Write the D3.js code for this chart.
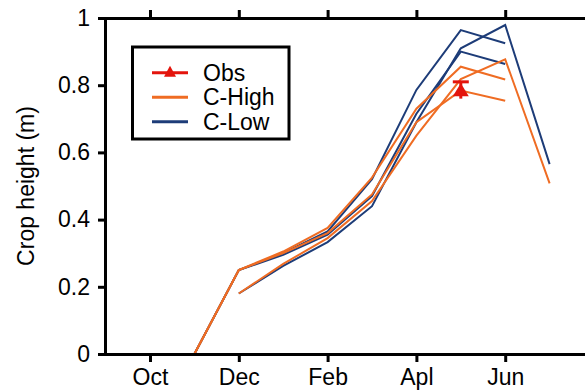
<!DOCTYPE html>
<html>
<head>
<meta charset="utf-8">
<script src="https://cdn.jsdelivr.net/npm/d3@7"></script>
<style>
  html, body { margin: 0; padding: 0; background: #fff; }
  svg { display: block; font-family: "Liberation Sans", Arial, Helvetica, sans-serif; }
</style>
</head>
<body>
<svg id="chart" width="585" height="392"></svg>
<script>
// ---------- data (months counted from Oct = 0) ----------
const tickMonths = [0, 2, 4, 6, 8];
const tickLabels = ["Oct", "Dec", "Feb", "Apl", "Jun"];
const yTicks = [0, 0.2, 0.4, 0.6, 0.8, 1];

const timesEarly = [1, 2, 3, 4, 5, 6, 7, 8];      // Nov .. Jun
const timesLate  = [2, 3, 4, 5, 6, 7, 8, 9];      // Dec .. Jul

const cLowRun1  = [0, 0.25, 0.300, 0.365, 0.520, 0.786, 0.964, 0.925];
const cLowRun2  = [0, 0.25, 0.295, 0.355, 0.470, 0.715, 0.900, 0.863];
const cLowRun3  = [0.18, 0.262, 0.333, 0.440, 0.690, 0.910, 0.979, 0.565];

const cHighRun1 = [0, 0.25, 0.305, 0.375, 0.525, 0.730, 0.855, 0.817];
const cHighRun2 = [0, 0.25, 0.300, 0.360, 0.475, 0.690, 0.784, 0.754];
const cHighRun3 = [0.18, 0.268, 0.345, 0.455, 0.650, 0.818, 0.877, 0.508];

const obsTime  = [7];
const obsValue = [0.785];
const obsError = [0.025];

// ---------- layout ----------
const svg = d3.select("#chart");
const x = d3.scaleLinear().domain([-1, 10]).range([105.6, 594]);
const y = d3.scaleLinear().domain([0, 1]).range([354, 18]);

const colHigh = "#ef6c23";
const colLow  = "#1d3c78";
const colObs  = "#e3140c";

const line = d3.line().x(d => x(d[0])).y(d => y(d[1]));
const zip = (t, v) => t.map((ti, i) => [ti, v[i]]);

const series = [
  { t: timesEarly, v: cLowRun1, c: colLow },
  { t: timesEarly, v: cLowRun2, c: colLow },
  { t: timesLate,  v: cLowRun3, c: colLow },
  { t: timesEarly, v: cHighRun1, c: colHigh },
  { t: timesEarly, v: cHighRun2, c: colHigh },
  { t: timesLate,  v: cHighRun3, c: colHigh }
];

svg.append("g").selectAll("path").data(series).join("path")
  .attr("d", s => line(zip(s.t, s.v)))
  .attr("fill", "none")
  .attr("stroke", s => s.c)
  .attr("stroke-width", 2)
  .attr("stroke-linejoin", "miter");

// observations with error bars
const obs = obsTime.map((t, i) => ({ t, v: obsValue[i], e: obsError[i] }));
const og = svg.append("g");
og.selectAll("line.err").data(obs).join("line")
  .attr("x1", d => x(d.t)).attr("x2", d => x(d.t))
  .attr("y1", d => y(d.v + d.e)).attr("y2", d => y(d.v - d.e))
  .attr("stroke", colObs).attr("stroke-width", 3);
og.selectAll("line.capT").data(obs).join("line")
  .attr("x1", d => x(d.t) - 8).attr("x2", d => x(d.t) + 8)
  .attr("y1", d => y(d.v + d.e)).attr("y2", d => y(d.v + d.e))
  .attr("stroke", colObs).attr("stroke-width", 3);
og.selectAll("path.tri").data(obs).join("path")
  .attr("d", d => {
    const cx = x(d.t), cy = y(d.v);
    return `M${cx},${cy - 7}L${cx + 8},${cy + 6}L${cx - 8},${cy + 6}Z`;
  })
  .attr("fill", colObs);

// ---------- axes ----------
const fmtY = d => (d === 0 || d === 1) ? String(d) : d.toFixed(1);
const axStyle = g => {
  g.selectAll("path.domain").attr("stroke", "#000").attr("stroke-width", 3).attr("stroke-linecap", "square");
  g.selectAll(".tick line").attr("stroke", "#000").attr("stroke-width", 3);
  g.selectAll(".tick text").attr("fill", "#000").style("font-size", "23px")
    .style("font-family", '"Liberation Sans", Arial, Helvetica, sans-serif');
};

svg.append("g").attr("transform", `translate(0,${y(0)})`)
  .call(d3.axisBottom(x).tickValues(tickMonths).tickFormat((d, i) => tickLabels[i])
    .tickSize(8).tickSizeOuter(0).tickPadding(7))
  .call(axStyle);

svg.append("g").attr("transform", `translate(0,${y(1)})`)
  .call(d3.axisTop(x).tickValues(tickMonths).tickFormat("").tickSize(8).tickSizeOuter(0))
  .call(axStyle);

svg.append("g").attr("transform", `translate(${x(-1) - 0.6},0)`)
  .call(d3.axisLeft(y).tickValues(yTicks).tickFormat(fmtY).tickSize(7).tickSizeOuter(0).tickPadding(8))
  .call(axStyle);

// y title
svg.append("text")
  .attr("transform", `translate(34,${(y(0) + y(1)) / 2}) rotate(-90)`)
  .attr("text-anchor", "middle")
  .style("font-size", "23px")
  .text("Crop height (m)");

// ---------- legend ----------
const lg = svg.append("g");
lg.append("rect").attr("x", 132.5).attr("y", 47).attr("width", 156.5).attr("height", 92)
  .attr("fill", "#fff").attr("stroke", "#000").attr("stroke-width", 3);
const legendItems = [
  { name: "Obs", c: colObs, marker: true },
  { name: "C-High", c: colHigh },
  { name: "C-Low", c: colLow }
];
legendItems.forEach((it, i) => {
  const ly = 72.7 + i * 24.5;
  lg.append("line").attr("x1", 152).attr("x2", 188).attr("y1", ly).attr("y2", ly)
    .attr("stroke", it.c).attr("stroke-width", 3);
  if (it.marker) {
    lg.append("path").attr("d", `M170,${ly - 7}L176,${ly + 4}L164,${ly + 4}Z`).attr("fill", it.c);
  }
  lg.append("text").attr("x", 203).attr("y", ly).attr("dy", "0.36em")
    .style("font-size", "23px").text(it.name);
});
</script>
</body>
</html>
